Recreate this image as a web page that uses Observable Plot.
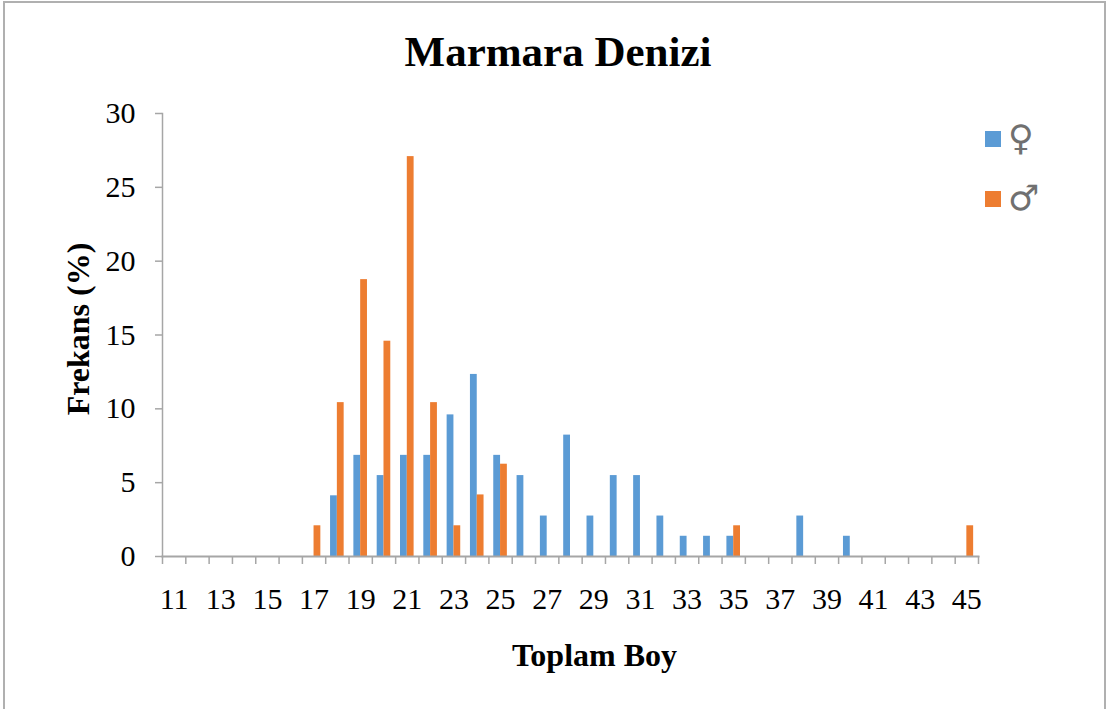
<!DOCTYPE html>
<html>
<head>
<meta charset="utf-8">
<script src="https://cdn.jsdelivr.net/npm/d3@7"></script>
<script src="https://cdn.jsdelivr.net/npm/@observablehq/plot@0.6"></script>
<style>
  body { margin: 0; background: #fff; }
  #wrap { position: relative; width: 1108px; height: 709px; overflow: hidden; font-family: "Liberation Serif", "Times New Roman", serif; }
  #border { position: absolute; left: 3px; top: 1px; right: 2px; bottom: -5px; border-left: 2px solid #b0b0b0; border-top: 2px solid #b0b0b0; border-right: 2px solid #b0b0b0; }
  #title { position: absolute; left: 0; width: 1116px; top: 30px; text-align: center; font-weight: bold; font-size: 43px; line-height: 1; color: #000; }
  #chart { position: absolute; left: 0; top: 90px; }
  .leg { position: absolute; left: 985px; display: flex; align-items: center; gap: 7px; }
  .sw { width: 16px; height: 16px; }
  .sym { font-family: "DejaVu Sans", sans-serif; font-size: 35px; line-height: 1; color: #707070; }
</style>
</head>
<body>
<div id="wrap">
  <div id="border"></div>
  <div id="title">Marmara Denizi</div>
  <div id="chart"></div>
  <div id="legend"></div>
</div>
<script>
// Categories (Toplam Boy)
const boy = [11,12,13,14,15,16,17,18,19,20,21,22,23,24,25,26,27,28,29,30,31,32,33,34,35,36,37,38,39,40,41,42,43,44,45];
// Frekans (%) – female (♀)
const femaleValues = [0,0,0,0,0,0,0,4.11,6.85,5.48,6.85,6.85,9.59,12.33,6.85,5.48,2.74,8.22,2.74,5.48,5.48,2.74,1.37,1.37,1.37,0,0,2.74,0,1.37,0,0,0,0,0];
// Frekans (%) – male (♂)
const maleValues = [0,0,0,0,0,0,2.08,10.42,18.75,14.58,27.08,10.42,2.08,4.17,6.25,0,0,0,0,0,0,0,0,0,2.08,0,0,0,0,0,0,0,0,0,2.08];
const series = ["♀", "♂"];
const colors = ["#5B9BD5", "#ED7D31"];
const xTickLabels = [11,13,15,17,19,21,23,25,27,29,31,33,35,37,39,41,43,45];
const yTicks = [0,5,10,15,20,25,30];
const xTitle = "Toplam Boy";
const yTitle = "Frekans (%)";

const rows = [];
boy.forEach((b, i) => {
  rows.push({boy: b, sex: series[0], value: femaleValues[i]});
  rows.push({boy: b, sex: series[1], value: maleValues[i]});
});
const shown = rows.filter(d => d.value > 0);

const barW = 6.8;
const half = (1108 - 162 - 130) / boy.length / 2;
const axisGray = "#a6a6a6";

const chart = Plot.plot({
  width: 1108,
  height: 619,
  marginLeft: 162,
  marginRight: 130,
  marginTop: 23,
  marginBottom: 153,
  style: { fontFamily: "Liberation Serif, Times New Roman, serif", fontSize: "30px", color: "#000", background: "transparent", overflow: "visible" },
  x: { type: "linear", domain: [d3.min(boy) - 0.5, d3.max(boy) + 0.5] },
  y: { domain: [0, 30] },
  color: { domain: series, range: colors },
  marks: [
    Plot.rectY(shown.filter(d => d.sex === series[0]), {
      x1: d => d.boy - 0.5, x2: d => d.boy + 0.5, y: "value", fill: colors[0],
      insetLeft: half - barW, insetRight: half
    }),
    Plot.rectY(shown.filter(d => d.sex === series[1]), {
      x1: d => d.boy - 0.5, x2: d => d.boy + 0.5, y: "value", fill: colors[1],
      insetLeft: half, insetRight: half - barW
    }),
    Plot.frame({anchor: "left", stroke: axisGray, strokeWidth: 1.5}),
    Plot.frame({anchor: "bottom", stroke: axisGray, strokeWidth: 2}),
    // boundary tick marks
    Plot.axisX({ticks: d3.range(d3.min(boy) - 0.5, d3.max(boy) + 1, 1), tickSize: 8, tickFormat: () => "", stroke: axisGray, strokeWidth: 1.5, label: null}),
    // tick labels
    Plot.axisX({ticks: xTickLabels, tickSize: 0, tickPadding: 31, tickFormat: d => String(d), fill: "#000", label: null}),
    Plot.axisY({ticks: yTicks, tickSize: 7, tickPadding: 20, stroke: axisGray, strokeWidth: 1.5, fill: "#000", label: null}),
    // axis titles
    Plot.text([xTitle], {text: d => d, frameAnchor: "bottom", dx: 24, dy: 109, fontWeight: "bold", fontSize: 32, fill: "#000"}),
    Plot.text([yTitle], {text: d => d, frameAnchor: "left", textAnchor: "middle", rotate: -90, dx: -84, dy: -6, fontWeight: "bold", fontSize: 32, fill: "#000"})
  ]
});
document.getElementById("chart").appendChild(chart);

const legend = document.getElementById("legend");
const legTops = [121, 181];
series.forEach((s, i) => {
  const row = document.createElement("div");
  row.className = "leg";
  row.style.top = legTops[i] + "px";
  row.innerHTML = `<div class="sw" style="background:${colors[i]}"></div><span class="sym">${s}</span>`;
  legend.appendChild(row);
});
</script>
</body>
</html>
